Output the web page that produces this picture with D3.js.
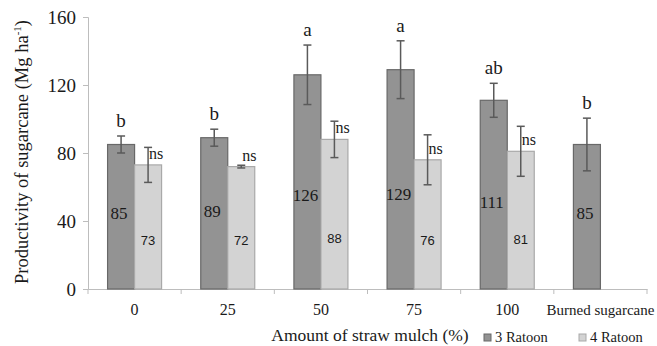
<!doctype html>
<html>
<head>
<meta charset="utf-8"/>
<title>Productivity of sugarcane</title>
<style>
body{margin:0;background:#fff;}
text{font-family:"Liberation Serif","Times New Roman",serif;fill:#1a1a1a;}
</style>
<script src="https://d3js.org/d3.v7.min.js"></script>
</head>
<body>
<script type="text/javascript">
// data
var categories = ["0", "25", "50", "75", "100", "Burned sugarcane"];
var series = ["3 Ratoon", "4 Ratoon"];
var ratoon3 = [85, 89, 126, 129, 111, 85];
var ratoon4 = [73, 72, 88, 76, 81, null];
var err3 = [5, 5, 17.5, 17, 10, 15.5];
var err4 = [10.3, 0.8, 10.7, 14.7, 14.7, null];
var letters3 = ["b", "b", "a", "a", "ab", "b"];
var letters4 = ["ns", "ns", "ns", "ns", "ns", ""];
var yTicks = [0, 40, 80, 120, 160];

var colors = {"3 Ratoon": "#939393", "4 Ratoon": "#d3d3d3"};
var strokes = {"3 Ratoon": "#686868", "4 Ratoon": "#a9a9a9"};

var W = 657, H = 346;
var svg = d3.select("body").append("svg")
    .attr("width", W)
    .attr("height", H);

var x = d3.scaleBand().domain(categories).range([88, 647]).paddingInner(0).paddingOuter(0);
var y = d3.scaleLinear().domain([0, 160]).range([289, 17]);
var groupW = 54;
var xs = d3.scaleBand().domain(series).range([0, groupW]);
var off = (x.bandwidth() - groupW) / 2;

// build rows
var rows = [];
categories.forEach(function(c, i){
    rows.push({cat: c, s: "3 Ratoon", v: ratoon3[i], e: err3[i], lab: letters3[i]});
    if (ratoon4[i] != null)
        rows.push({cat: c, s: "4 Ratoon", v: ratoon4[i], e: err4[i], lab: letters4[i]});
});
function bx(d){ return x(d.cat) + off + xs(d.s); }
function cx(d){ return bx(d) + xs.bandwidth() / 2; }

// axes
var gy = svg.append("g").attr("transform", "translate(88,0)")
    .call(d3.axisLeft(y).tickValues(yTicks).tickSize(5).tickPadding(7));
gy.select(".domain").attr("stroke", "#bdbdbd");
gy.selectAll(".tick line").attr("stroke", "#bdbdbd");
gy.selectAll(".tick text").attr("font-size", 19).attr("font-family", "Liberation Serif").attr("fill", "#1a1a1a");

var gx = svg.append("g").attr("transform", "translate(0,289)")
    .call(d3.axisBottom(x).tickSize(0).tickPadding(15));
gx.select(".domain").attr("stroke", "#bdbdbd");
gx.selectAll(".tick text")
    .attr("font-family", "Liberation Serif")
    .attr("fill", "#1a1a1a")
    .attr("font-size", function(d){ return d == "Burned sugarcane" ? 15 : 16; });
// small ticks between groups
svg.selectAll(".sep").data(categories.concat(["end"])).enter().append("line")
    .attr("x1", function(d, i){ return 88 + i * x.bandwidth(); })
    .attr("x2", function(d, i){ return 88 + i * x.bandwidth(); })
    .attr("y1", 289).attr("y2", 294)
    .attr("stroke", "#bdbdbd");

// bars
svg.selectAll(".bar").data(rows).enter().append("rect")
    .attr("x", bx)
    .attr("y", function(d){ return y(d.v); })
    .attr("width", xs.bandwidth())
    .attr("height", function(d){ return y(0) - y(d.v); })
    .attr("fill", function(d){ return colors[d.s]; })
    .attr("stroke", function(d){ return strokes[d.s]; })
    .attr("stroke-width", 1.2);

// error bars
var eb = svg.selectAll(".err").data(rows).enter().append("g").attr("stroke", "#5a5a5a").attr("stroke-width", 1.5);
eb.append("line")
    .attr("x1", cx).attr("x2", cx)
    .attr("y1", function(d){ return y(d.v + d.e); })
    .attr("y2", function(d){ return y(d.v - d.e); });
eb.append("line")
    .attr("x1", function(d){ return cx(d) - 4; }).attr("x2", function(d){ return cx(d) + 4; })
    .attr("y1", function(d){ return y(d.v + d.e); }).attr("y2", function(d){ return y(d.v + d.e); });
eb.append("line")
    .attr("x1", function(d){ return cx(d) - 4; }).attr("x2", function(d){ return cx(d) + 4; })
    .attr("y1", function(d){ return y(d.v - d.e); }).attr("y2", function(d){ return y(d.v - d.e); });

// letters above
var r3 = rows.filter(function(d){ return d.s == "3 Ratoon"; });
var r4 = rows.filter(function(d){ return d.s == "4 Ratoon"; });
svg.selectAll(".let3").data(r3).enter().append("text")
    .attr("x", cx)
    .attr("y", function(d){ return y(d.v + d.e) - 9; })
    .attr("text-anchor", "middle")
    .attr("font-size", 19)
    .text(function(d){ return d.lab; });
svg.selectAll(".let4").data(r4).enter().append("text")
    .attr("x", function(d){ return cx(d) + 1; })
    .attr("y", function(d){ return y(d.v) - 6; })
    .attr("font-size", 16)
    .text(function(d){ return d.lab; });

// values in bars
svg.selectAll(".val3").data(r3).enter().append("text")
    .attr("x", function(d){ return cx(d) - 2; })
    .attr("y", function(d){ return y(d.v * 0.25 + 20); })
    .attr("text-anchor", "middle")
    .attr("font-size", 17)
    .text(function(d){ return d.v; });
svg.selectAll(".val4").data(r4).enter().append("text")
    .attr("x", function(d){ return cx(d); })
    .attr("y", function(d){ return y(d.v * 0.1 + 18.5); })
    .attr("text-anchor", "middle")
    .attr("font-size", 13)
    .style("font-family", "Liberation Sans")
    .text(function(d){ return d.v; });

// axis titles
svg.append("text")
    .attr("transform", "translate(28,152) rotate(-90)")
    .attr("text-anchor", "middle")
    .attr("font-size", 18.5)
    .html('Productivity of sugarcane (Mg ha<tspan dy="-7" font-size="11">-1</tspan><tspan dy="7">)</tspan>');

svg.append("text")
    .attr("x", 370).attr("y", 341)
    .attr("text-anchor", "middle")
    .attr("font-size", 17.5)
    .text("Amount of straw mulch (%)");

// legend
var lg = svg.selectAll(".lg").data(series).enter().append("g")
    .attr("transform", function(d, i){ return "translate(" + (484 + i * 95) + ",334)"; });
lg.append("rect").attr("width", 7).attr("height", 7)
    .attr("fill", function(d){ return colors[d]; })
    .attr("stroke", function(d){ return strokes[d]; });
lg.append("text").attr("x", 11).attr("y", 7.5).attr("font-size", 14.5).text(function(d){ return d; });
</script>
</body>
</html>
